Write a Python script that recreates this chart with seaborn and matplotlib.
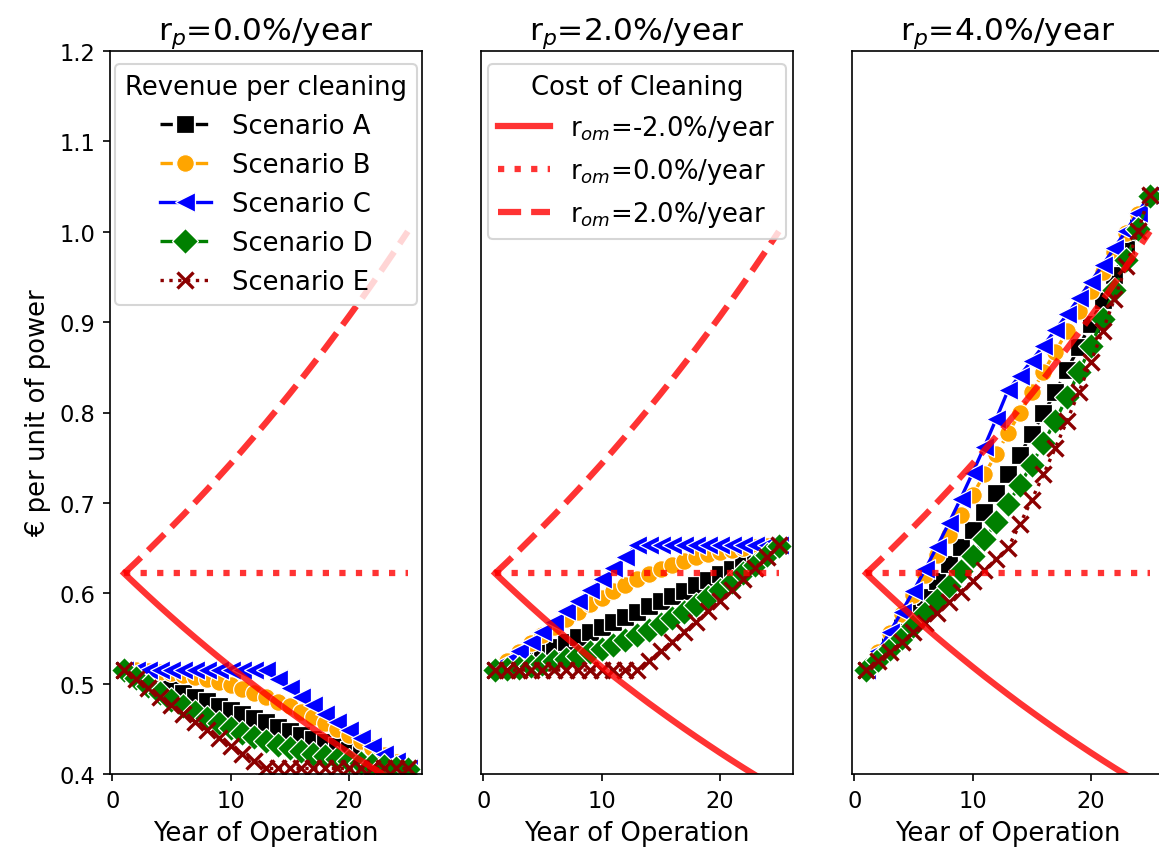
import matplotlib
matplotlib.use("Agg")
import matplotlib.pyplot as plt
import seaborn as sns

years = list(range(1, 26))
scenario_names = ["Scenario A", "Scenario B", "Scenario C", "Scenario D", "Scenario E"]
price_titles = [r"r$_p$=0.0%/year", r"r$_p$=2.0%/year", r"r$_p$=4.0%/year"]
cost_labels = [r"r$_{om}$=-2.0%/year", r"r$_{om}$=0.0%/year", r"r$_{om}$=2.0%/year"]

# ---- revenue per cleaning, r_p = 0.0 %/year ----
p0_A = [0.5150, 0.5099, 0.5049, 0.4998, 0.4949, 0.4900, 0.4852, 0.4804, 0.4756, 0.4709, 0.4662, 0.4616, 0.4570,
        0.4525, 0.4480, 0.4436, 0.4392, 0.4349, 0.4306, 0.4263, 0.4221, 0.4179, 0.4138, 0.4096, 0.4056]
p0_B = [0.5150, 0.5148, 0.5141, 0.5131, 0.5116, 0.5097, 0.5074, 0.5046, 0.5015, 0.4980, 0.4941, 0.4898, 0.4852,
        0.4801, 0.4748, 0.4691, 0.4631, 0.4568, 0.4503, 0.4434, 0.4363, 0.4289, 0.4214, 0.4136, 0.4056]
p0_C = [0.5150, 0.5150, 0.5150, 0.5150, 0.5150, 0.5150, 0.5150, 0.5150, 0.5150, 0.5150, 0.5150, 0.5150, 0.5150,
        0.5049, 0.4950, 0.4853, 0.4758, 0.4664, 0.4573, 0.4483, 0.4395, 0.4309, 0.4225, 0.4142, 0.4061]
p0_D = [0.5150, 0.5060, 0.4975, 0.4895, 0.4820, 0.4750, 0.4683, 0.4620, 0.4562, 0.4507, 0.4456, 0.4408, 0.4364,
        0.4324, 0.4287, 0.4253, 0.4222, 0.4194, 0.4168, 0.4145, 0.4124, 0.4104, 0.4086, 0.4070, 0.4056]
p0_E = [0.5150, 0.5049, 0.4950, 0.4853, 0.4758, 0.4664, 0.4573, 0.4483, 0.4395, 0.4309, 0.4225, 0.4142, 0.4061,
        0.4061, 0.4061, 0.4061, 0.4061, 0.4061, 0.4061, 0.4061, 0.4061, 0.4061, 0.4061, 0.4061, 0.4061]

# ---- revenue per cleaning, r_p = 2.0 %/year ----
p2_A = [0.5150, 0.5201, 0.5253, 0.5304, 0.5357, 0.5410, 0.5464, 0.5518, 0.5573, 0.5628, 0.5683, 0.5740, 0.5796,
        0.5854, 0.5911, 0.5970, 0.6029, 0.6089, 0.6150, 0.6210, 0.6272, 0.6334, 0.6397, 0.6459, 0.6524]
p2_B = [0.5150, 0.5251, 0.5349, 0.5445, 0.5538, 0.5628, 0.5714, 0.5796, 0.5876, 0.5952, 0.6023, 0.6090, 0.6153,
        0.6211, 0.6265, 0.6314, 0.6357, 0.6396, 0.6431, 0.6459, 0.6483, 0.6501, 0.6515, 0.6522, 0.6524]
p2_C = [0.5150, 0.5253, 0.5358, 0.5465, 0.5574, 0.5686, 0.5800, 0.5916, 0.6034, 0.6155, 0.6278, 0.6404, 0.6531,
        0.6531, 0.6531, 0.6531, 0.6531, 0.6531, 0.6531, 0.6531, 0.6531, 0.6531, 0.6531, 0.6531, 0.6531]
p2_D = [0.5150, 0.5161, 0.5176, 0.5195, 0.5217, 0.5245, 0.5274, 0.5307, 0.5345, 0.5387, 0.5432, 0.5481, 0.5534,
        0.5594, 0.5657, 0.5724, 0.5796, 0.5873, 0.5953, 0.6038, 0.6128, 0.6220, 0.6317, 0.6418, 0.6524]
p2_E = [0.5150, 0.5150, 0.5150, 0.5150, 0.5150, 0.5150, 0.5150, 0.5150, 0.5150, 0.5150, 0.5150, 0.5150, 0.5150,
        0.5253, 0.5358, 0.5465, 0.5574, 0.5686, 0.5800, 0.5916, 0.6034, 0.6155, 0.6278, 0.6404, 0.6531]

# ---- revenue per cleaning, r_p = 4.0 %/year ----
p4_A = [0.5150, 0.5303, 0.5461, 0.5622, 0.5790, 0.5962, 0.6139, 0.6322, 0.6509, 0.6702, 0.6901, 0.7106, 0.7317,
        0.7535, 0.7758, 0.7989, 0.8226, 0.8471, 0.8723, 0.8981, 0.9249, 0.9523, 0.9807, 1.0095, 1.0397]
p4_B = [0.5150, 0.5354, 0.5561, 0.5772, 0.5985, 0.6202, 0.6420, 0.6640, 0.6864, 0.7088, 0.7314, 0.7540, 0.7768,
        0.7994, 0.8222, 0.8448, 0.8674, 0.8898, 0.9122, 0.9342, 0.9560, 0.9774, 0.9987, 1.0194, 1.0397]
p4_C = [0.5150, 0.5356, 0.5570, 0.5793, 0.6025, 0.6266, 0.6516, 0.6777, 0.7048, 0.7330, 0.7623, 0.7928, 0.8245,
        0.8407, 0.8572, 0.8740, 0.8912, 0.9085, 0.9264, 0.9445, 0.9630, 0.9819, 1.0013, 1.0209, 1.0410]
p4_D = [0.5150, 0.5262, 0.5381, 0.5506, 0.5639, 0.5779, 0.5925, 0.6080, 0.6243, 0.6415, 0.6596, 0.6786, 0.6987,
        0.7200, 0.7424, 0.7659, 0.7908, 0.8170, 0.8444, 0.8733, 0.9036, 0.9352, 0.9683, 1.0031, 1.0397]
p4_E = [0.5150, 0.5251, 0.5354, 0.5459, 0.5566, 0.5675, 0.5786, 0.5899, 0.6015, 0.6133, 0.6254, 0.6377, 0.6502,
        0.6762, 0.7032, 0.7314, 0.7606, 0.7910, 0.8227, 0.8556, 0.8898, 0.9254, 0.9624, 1.0009, 1.0410]

# ---- cost of cleaning ----
cost_m2 = [0.6220, 0.6096, 0.5974, 0.5854, 0.5737, 0.5622, 0.5510, 0.5400, 0.5292, 0.5186, 0.5082, 0.4981, 0.4881,
           0.4783, 0.4688, 0.4594, 0.4502, 0.4412, 0.4324, 0.4237, 0.4152, 0.4069, 0.3988, 0.3908, 0.3830]
cost_0 = [0.6220, 0.6220, 0.6220, 0.6220, 0.6220, 0.6220, 0.6220, 0.6220, 0.6220, 0.6220, 0.6220, 0.6220, 0.6220,
          0.6220, 0.6220, 0.6220, 0.6220, 0.6220, 0.6220, 0.6220, 0.6220, 0.6220, 0.6220, 0.6220, 0.6220]
cost_p2 = [0.6220, 0.6344, 0.6471, 0.6601, 0.6733, 0.6867, 0.7005, 0.7145, 0.7288, 0.7433, 0.7582, 0.7734, 0.7888,
           0.8046, 0.8207, 0.8371, 0.8539, 0.8709, 0.8884, 0.9061, 0.9242, 0.9427, 0.9616, 0.9808, 1.0004]

panels = [
    [p0_A, p0_B, p0_C, p0_D, p0_E],
    [p2_A, p2_B, p2_C, p2_D, p2_E],
    [p4_A, p4_B, p4_C, p4_D, p4_E],
]
costs = [cost_m2, cost_0, cost_p2]

scen_styles = [
    dict(color="black", marker="s", linestyle="--", mec="white", ms=8.5),
    dict(color="orange", marker="o", linestyle="--", mec="white", ms=8.5),
    dict(color="blue", marker="<", linestyle="-", mec="white", ms=9.5),
    dict(color="green", marker="D", linestyle="--", mec="white", ms=9),
    dict(color="darkred", marker="x", linestyle=":", mec="darkred", ms=8),
]
cost_styles = ["-", ":", "--"]

DPI = 150
fig = plt.figure(figsize=(1159 / DPI, 857 / DPI), dpi=DPI)
fig.patch.set_facecolor("white")

W, H = 1159, 857
ax_bottom = (H - 775) / H
ax_height = (775 - 52) / H
lefts = [110, 481, 852]
width = 312

axes = []
for i, lx in enumerate(lefts):
    if i == 0:
        ax = fig.add_axes([lx / W, ax_bottom, width / W, ax_height])
    else:
        ax = fig.add_axes([lx / W, ax_bottom, width / W, ax_height], sharey=axes[0])
    axes.append(ax)

TICK = 10.8
LABEL = 12.4
TITLE = 15.0

for i, ax in enumerate(axes):
    for vals, st in zip(panels[i], scen_styles):
        sns.lineplot(x=years, y=vals, ax=ax, color=st["color"], marker=st["marker"],
                     linestyle=st["linestyle"], markersize=st["ms"], markeredgecolor=st["mec"],
                     markeredgewidth=0.6 if st["mec"] == "white" else 1.6,
                     linewidth=1.6, estimator=None, sort=False)
    for vals, ls in zip(costs, cost_styles):
        sns.lineplot(x=years, y=vals, ax=ax, color="red", alpha=0.8, linestyle=ls,
                     linewidth=3, estimator=None, sort=False)
    ax.set_ylim(0.4, 1.2)
    ax.set_xticks([0, 10, 20])
    ax.set_title(price_titles[i], fontsize=TITLE)
    ax.set_xlabel("Year of Operation", fontsize=LABEL)
    ax.tick_params(labelsize=TICK)
    if i == 0:
        ax.set_ylabel("€ per unit of power", fontsize=LABEL)
        ax.set_yticks([0.4, 0.5, 0.6, 0.7, 0.8, 0.9, 1.0, 1.1, 1.2])
    else:
        ax.set_ylabel("")
        ax.tick_params(left=False, labelleft=False)
    if ax.get_legend() is not None:
        ax.get_legend().remove()

lines0 = axes[0].get_lines()
axes[0].legend(handles=lines0[:5], labels=scenario_names, title="Revenue per cleaning",
               loc="upper center", fontsize=LABEL, title_fontsize=LABEL)
lines1 = axes[1].get_lines()
axes[1].legend(handles=lines1[5:8], labels=cost_labels, title="Cost of Cleaning",
               loc="upper center", fontsize=LABEL, title_fontsize=LABEL)

fig.savefig("out.png", dpi=DPI, facecolor="white")
